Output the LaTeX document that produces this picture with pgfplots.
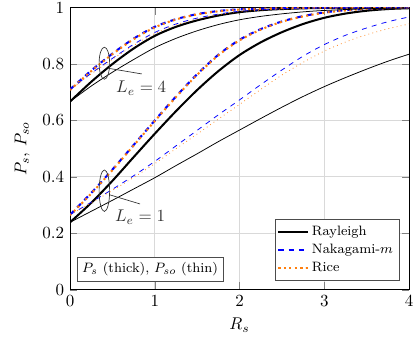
\documentclass[border=0pt]{standalone}
\usepackage{pgfplots}
\pgfplotsset{compat=1.18}
\usetikzlibrary{calc}
\definecolor{myorange}{RGB}{255,127,14}
\begin{document}
\begin{tikzpicture}
\begin{axis}[
  scale only axis, width=199.4pt, height=165.9pt,
  xmin=0, xmax=4, ymin=0, ymax=1,
  xtick={0,1,2,3,4}, ytick={0,0.2,0.4,0.6,0.8,1},
  grid=major, grid style={gray!30, line width=0.5pt},
  xlabel={$R_s$}, ylabel={$P_s$, $P_{so}$},
  xlabel style={anchor=center, at={(axis description cs:0.5,-0.1254)}},
  ylabel style={anchor=center, at={(axis description cs:-0.1414,0.5)}},
  legend style={font=\footnotesize, at={(0.971,0.033)}, anchor=south east, draw=black!70, inner sep=1.5pt, row sep=-0.3pt},
  legend cell align=left,
  every axis plot/.append style={smooth},
]
% Le=1 thick
\addplot[black, line width=1.2pt] coordinates {(0,0.239)(0.25,0.308)(0.5,0.386)(0.75,0.47)(1,0.553)(1.25,0.633)(1.5,0.708)(1.75,0.775)(2,0.832)(2.25,0.877)(2.5,0.913)(2.75,0.942)(3,0.964)(3.25,0.979)(3.5,0.989)(3.75,0.995)(4,0.998)};
\addlegendentry{Rayleigh}
\addplot[blue, dashed, line width=1.2pt] coordinates {(0,0.266)(0.25,0.343)(0.5,0.426)(0.75,0.513)(1,0.6)(1.25,0.685)(1.5,0.764)(1.75,0.833)(2,0.886)(2.25,0.924)(2.5,0.951)(2.75,0.97)(3,0.983)(3.25,0.991)(3.5,0.996)(3.75,0.998)(4,1)};
\addlegendentry{Nakagami-$m$}
\addplot[myorange, dotted, line width=1.2pt] coordinates {(0,0.264)(0.25,0.341)(0.5,0.424)(0.75,0.511)(1,0.598)(1.25,0.683)(1.5,0.762)(1.75,0.831)(2,0.884)(2.25,0.922)(2.5,0.95)(2.75,0.969)(3,0.982)(3.25,0.99)(3.5,0.996)(3.75,0.998)(4,1)};
\addlegendentry{Rice}
% Le=1 thin
\addplot[black, line width=0.45pt, forget plot] coordinates {(0,0.239)(0.25,0.278)(0.5,0.317)(0.75,0.357)(1,0.397)(1.25,0.44)(1.5,0.482)(1.75,0.525)(2,0.566)(2.25,0.607)(2.5,0.647)(2.75,0.685)(3,0.72)(3.25,0.752)(3.5,0.782)(3.75,0.81)(4,0.835)};
\addplot[blue, dashed, line width=0.45pt, forget plot] coordinates {(0,0.266)(0.25,0.31)(0.5,0.356)(0.75,0.404)(1,0.455)(1.25,0.51)(1.5,0.565)(1.75,0.62)(2,0.673)(2.25,0.727)(2.5,0.779)(2.75,0.828)(3,0.869)(3.25,0.902)(3.5,0.928)(3.75,0.95)(4,0.967)};
\addplot[myorange, dotted, line width=0.45pt, forget plot] coordinates {(0,0.266)(0.25,0.308)(0.5,0.352)(0.75,0.398)(1,0.447)(1.25,0.5)(1.5,0.552)(1.75,0.605)(2,0.657)(2.25,0.71)(2.5,0.761)(2.75,0.806)(3,0.846)(3.25,0.878)(3.5,0.904)(3.75,0.925)(4,0.942)};
% Le=4 thick
\addplot[black, line width=1.2pt, forget plot] coordinates {(0,0.667)(0.25,0.737)(0.5,0.8)(0.75,0.855)(1,0.9)(1.25,0.932)(1.5,0.955)(1.75,0.972)(2,0.984)(2.25,0.991)(2.5,0.995)(3,0.999)(4,1)};
\addplot[blue, dashed, line width=1.2pt, forget plot] coordinates {(0,0.71)(0.25,0.777)(0.5,0.837)(0.75,0.89)(1,0.932)(1.25,0.959)(1.5,0.977)(1.75,0.988)(2,0.994)(2.5,0.998)(3,1)(4,1)};
\addplot[myorange, dotted, line width=1.2pt, forget plot] coordinates {(0,0.708)(0.25,0.775)(0.5,0.835)(0.75,0.888)(1,0.93)(1.25,0.958)(1.5,0.976)(1.75,0.987)(2,0.993)(2.5,0.998)(3,1)(4,1)};
% Le=4 thin
\addplot[black, line width=0.45pt, forget plot] coordinates {(0,0.667)(0.25,0.722)(0.5,0.771)(0.75,0.816)(1,0.858)(1.25,0.891)(1.5,0.918)(1.75,0.94)(2,0.957)(2.25,0.969)(2.5,0.978)(2.75,0.985)(3,0.99)(3.5,0.996)(4,0.999)};
\addplot[blue, dashed, line width=0.45pt, forget plot] coordinates {(0,0.71)(0.25,0.767)(0.5,0.82)(0.75,0.87)(1,0.912)(1.25,0.942)(1.5,0.963)(1.75,0.977)(2,0.987)(2.5,0.996)(3,0.999)(4,1)};
\addplot[myorange, dotted, line width=0.45pt, forget plot] coordinates {(0,0.71)(0.25,0.765)(0.5,0.817)(0.75,0.866)(1,0.908)(1.25,0.939)(1.5,0.96)(1.75,0.975)(2,0.986)(2.5,0.995)(3,0.999)(4,1)};
% annotations
\draw[black!80, line width=0.4pt] (axis cs:0.405,0.803) ellipse [x radius=3.1pt, y radius=9.4pt];
\draw[black!80, line width=0.4pt] (axis cs:0.452,0.785) -- (axis cs:0.846,0.765);
\node[black!80] at (axis cs:0.84,0.715) {$L_e=4$};
\draw[black!80, line width=0.4pt] (axis cs:0.405,0.351) ellipse [x radius=3.1pt, y radius=12.2pt];
\draw[black!80, line width=0.4pt] (axis cs:0.472,0.336) -- (axis cs:0.826,0.304);
\node[black!80] at (axis cs:0.826,0.258) {$L_e=1$};
\node[draw=black!70, fill=white, font=\footnotesize, inner sep=3pt] at (axis cs:0.944,0.072) {$P_s$ (thick), $P_{so}$ (thin)};
\end{axis}
\pgfresetboundingbox
\useasboundingbox ($(current axis.south west)+(-41.2pt,-29pt)$) rectangle ($(current axis.north east)+(3.5pt,4.5pt)$);
\end{tikzpicture}
\end{document}
